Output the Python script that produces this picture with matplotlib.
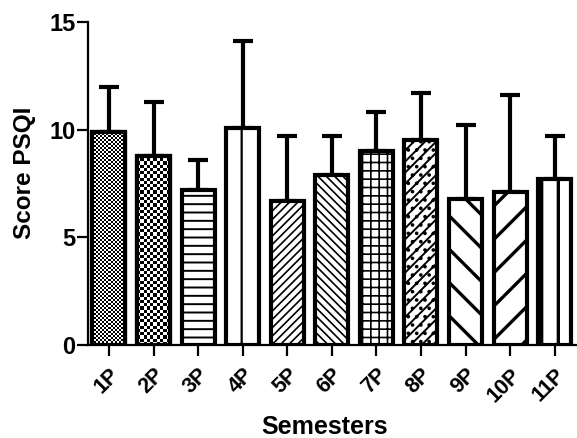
import numpy as np
import matplotlib
matplotlib.use("Agg")
import matplotlib.pyplot as plt

# PSQI score per semester (mean and SD)
semesters = ['1P', '2P', '3P', '4P', '5P', '6P', '7P', '8P', '9P', '10P', '11P']
means = [9.9, 8.8, 7.2, 10.1, 6.7, 7.9, 9.0, 9.5, 6.8, 7.1, 7.7]
sds = [2.1, 2.5, 1.4, 4.0, 3.0, 1.8, 1.8, 2.2, 3.4, 4.5, 2.0]
yticks = [0, 5, 10, 15]

# fill style per bar: None means checkerboard drawn as image
hatches = [None, None, '--', '|', '////', '\\\\\\\\', '++', '///..', '\\', '/', '|']
hatch_lw = [1, 1, 1.4, 1.6, 1.2, 1.2, 1.2, 1.4, 2.4, 2.4, 2.4]
checker_px = [2, 3.2]  # cell size in pixels for the two checker bars

plt.rcParams['font.family'] = ['Liberation Sans', 'DejaVu Sans']
plt.rcParams['font.weight'] = 'bold'
plt.rcParams['hatch.linewidth'] = 1.6

W, H, DPI = 577, 438, 100
fig = plt.figure(figsize=(W / DPI, H / DPI), dpi=DPI)
left, right, top, bottom = 88, 577, 22, 345
ax = fig.add_axes([left / W, (H - bottom) / H, (right - left) / W, (bottom - top) / H])

xlim = (-0.47, 10.5)
ylim = (0, 15)
px_x = (right - left) / (xlim[1] - xlim[0])
px_y = (bottom - top) / (ylim[1] - ylim[0])

x = np.arange(len(semesters))
width = 0.74
edge = 3.0

ax.errorbar(x, means, yerr=[np.zeros(len(sds)), sds], fmt='none', ecolor='black',
            elinewidth=3.0, capsize=7.5, capthick=3.0, zorder=1)

bars = ax.bar(x, means, width, color='white', edgecolor='black', linewidth=edge, zorder=2)
for b, h, lw in zip(bars, hatches, hatch_lw):
    if h is not None:
        b.set_hatch(h)
        if hasattr(b, 'set_hatch_linewidth'):
            b.set_hatch_linewidth(lw)

# checkerboard fills for the first two bars
for i, c in enumerate(checker_px):
    b = bars[i]
    ncol = max(1, int(round(width * px_x / c)))
    nrow = max(1, int(round(means[i] * px_y / c)))
    grid = (np.add.outer(np.arange(nrow), np.arange(ncol)) % 2).astype(float)
    im = ax.imshow(grid, cmap='gray', interpolation='nearest', aspect='auto',
                   extent=(x[i] - width / 2, x[i] + width / 2, 0, means[i]), zorder=2.5)
    im.set_clip_path(b)
    ax.bar(x[i], means[i], width, fill=False, edgecolor='black', linewidth=edge, zorder=3)

ax.set_xlim(*xlim)
ax.set_ylim(*ylim)
ax.set_yticks(yticks)
ax.set_xticks(x)
ax.set_xticklabels(semesters, rotation=45, ha='right', rotation_mode='anchor')

for s in ['top', 'right']:
    ax.spines[s].set_visible(False)
for s in ['left', 'bottom']:
    ax.spines[s].set_linewidth(1.6)
ax.tick_params(axis='both', direction='out', length=8, width=1.6)
ax.tick_params(axis='x', pad=6, labelsize=15.5)
ax.tick_params(axis='y', pad=1, labelsize=17)

fig.text(24 / W, 1 - 173 / H, 'Score PSQI', rotation=90, ha='center', va='center',
         fontsize=17.5, fontweight='bold')
fig.text(325 / W, 1 - 434 / H, 'Semesters', ha='center', va='baseline',
         fontsize=18, fontweight='bold')

fig.savefig('out.png', dpi=DPI)
